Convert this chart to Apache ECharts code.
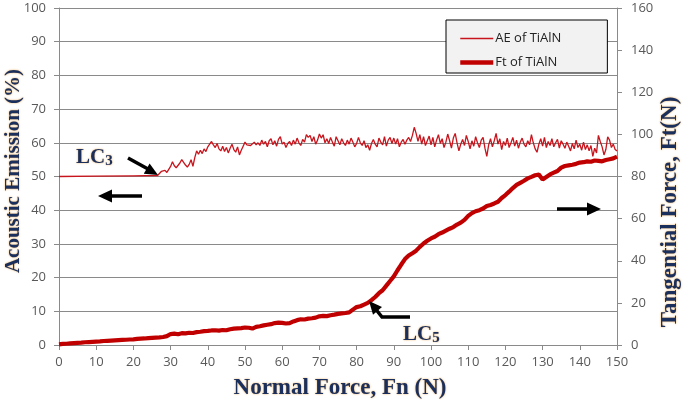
<!DOCTYPE html>
<html>
<head>
<meta charset="utf-8">
<script src="https://cdn.jsdelivr.net/npm/echarts@6/dist/echarts.min.js"></script>
<style>html,body{margin:0;padding:0;background:#fff}#c{width:685px;height:402px}</style>
</head>
<body>
<div id="c"></div>
<script>
// ---- Data ----
// Normal force axis ticks
const xTicks = [0,10,20,30,40,50,60,70,80,90,100,110,120,130,140,150];
// AE of TiAlN (%), left axis: flat lead-in, then dense readings every 0.5 N from 27 N
const aeLeadN = [0, 10, 20, 26.5];
const aeLead = [50.0, 50.1, 50.2, 50.3];
const aeDenseStartN = 27;
const aeDenseStepN = 0.5;
const aeDense = [
  50.3,51.5,51.0,51.8,51.2,51.4,53.0,54.4,53.2,52.6,52.9,54.0,55.0,54.2,53.4,52.8,53.6,55.0,53.0,55.6,
  57.6,56.6,57.8,56.8,58.2,57.4,58.8,59.6,60.4,59.4,58.6,59.8,58.2,57.6,59.0,57.4,58.6,57.0,58.4,59.6,
  58.0,57.2,58.8,56.4,57.8,59.0,60.2,59.4,59.8,59.2,59.6,60.2,59.4,60.0,59.2,60.8,59.6,60.4,58.8,60.6,
  61.2,59.4,60.6,59.0,61.0,61.8,59.6,60.2,58.6,59.8,60.4,59.2,60.8,59.6,61.4,60.0,59.2,61.0,60.2,62.4,
  61.6,62.2,60.4,61.8,59.6,60.8,62.6,61.4,62.4,60.0,61.2,59.8,61.6,60.2,59.0,61.8,60.6,59.4,61.2,60.0,
  59.2,60.8,59.6,61.4,60.2,58.8,59.8,61.6,60.0,59.2,60.6,58.6,59.4,57.8,59.8,61.0,59.6,58.8,61.4,60.2,
  59.4,61.8,59.0,60.8,61.6,59.8,61.4,59.6,61.2,58.8,60.2,61.0,59.6,60.8,61.6,60.4,62.2,64.6,62.8,60.4,
  62.4,59.6,61.8,59.2,60.6,62.0,59.4,61.6,58.8,60.8,62.4,59.8,61.2,58.6,60.2,62.6,60.6,58.4,61.4,62.8,
  60.0,57.6,59.6,61.0,59.2,62.2,60.4,58.2,60.6,59.0,61.8,60.0,58.6,60.8,61.6,58.4,56.0,59.4,61.2,58.8,
  60.6,62.8,59.6,61.2,58.0,60.4,59.2,61.4,58.6,60.0,61.6,59.0,60.8,58.4,60.2,61.4,59.6,58.8,60.6,59.4,
  62.4,60.0,58.2,57.2,59.6,61.2,59.0,61.6,58.6,60.4,59.2,61.2,58.8,60.0,61.0,58.4,60.6,59.6,58.4,60.2,
  59.0,57.6,59.8,58.2,60.8,58.6,59.6,57.8,60.2,58.0,59.4,57.6,59.2,56.0,58.4,57.0,62.2,60.4,58.8,56.4,
  58.0,61.8,60.8,58.6,59.6,58.0,57.6
];
// Ft of TiAlN (N), right axis, one reading per 1 N from 0 N
const ftStartN = 0;
const ftStepN = 1;
const ft = [
  0.3,0.5,0.6,0.8,0.9,1.0,1.1,1.3,1.4,1.5,
  1.6,1.7,1.9,2.0,2.1,2.2,2.3,2.4,2.5,2.6,
  2.7,2.9,3.0,3.1,3.3,3.4,3.5,3.6,3.8,4.2,
  5.2,5.4,5.1,5.6,5.5,5.8,5.7,6.1,6.3,6.6,
  6.7,6.9,7.0,6.8,7.1,7.0,7.5,7.8,7.9,8.0,
  8.3,8.2,7.8,8.6,8.9,9.3,9.6,9.9,10.4,10.6,
  10.5,10.2,10.4,11.2,11.8,12.2,12.1,12.5,12.7,13.0,
  13.6,13.8,13.7,14.1,14.4,14.8,15.0,15.2,15.5,16.8,
  18.0,18.4,19.2,20.0,21.3,22.8,24.6,26.0,28.2,30.4,
  32.6,35.5,38.2,40.8,42.5,43.6,44.8,46.6,48.2,49.5,
  50.6,51.4,52.6,53.4,54.3,55.2,56.0,57.2,58.1,59.4,
  61.3,62.6,63.5,64.0,64.8,66.0,66.5,67.2,68.0,69.8,
  71.2,72.8,74.5,76.0,77.0,78.0,79.1,79.8,80.6,80.9,
  78.6,79.8,81.0,81.8,82.6,84.2,85.0,85.3,85.6,86.0,
  86.6,86.8,87.2,87.0,87.6,87.4,87.2,87.8,88.2,88.6,
  89.4
];
const leftTicks = [0,10,20,30,40,50,60,70,80,90,100];
const rightTicks = [0,20,40,60,80,100,120,140,160];

// ---- Build series ----
const aeData = aeLeadN.map((n, i) => [n, aeLead[i]])
  .concat(aeDense.map((v, i) => [aeDenseStartN + i * aeDenseStepN, v]));
const ftData = ft.map((v, i) => [ftStartN + i * ftStepN, v]);

const titleColor = '#1b2f5c';
const glow = '#e8a64a';
const tickFont = 'Open Sans';
const gray = '#8a8a8a';
const serif = '"Liberation Serif", "DejaVu Serif", serif';

const chart = echarts.init(document.getElementById('c'), null, {renderer: 'canvas'});

function arrowHead(points) {
  return {type: 'polygon', shape: {points: points}, style: {fill: '#000'}, z: 100};
}
function shaft(points) {
  return {type: 'polyline', shape: {points: points}, style: {stroke: '#000', lineWidth: 3.5, fill: null}, z: 100};
}
function lcLabel(x, y, sub) {
  return {type: 'text', x: x, y: y, z: 50,
    style: {text: '{a|LC}{b|' + sub + '}', rich: {
      a: {font: 'bold 21px ' + serif, fill: titleColor, textShadowColor: glow, textShadowBlur: 2},
      b: {font: 'bold 15px ' + serif, fill: titleColor, padding: [8, 0, 0, 0], textShadowColor: glow, textShadowBlur: 2}
    }}};
}

chart.setOption({
  animation: false,
  backgroundColor: '#fff',
  grid: {left: 59, right: 68, top: 8, bottom: 57, containLabel: false},
  legend: {
    left: 446, top: 20,
    orient: 'vertical',
    backgroundColor: '#f2f2f2',
    borderColor: '#000', borderWidth: 1,
    padding: [12, 46, 4, 12],
    itemWidth: 33, itemHeight: 14, itemGap: 11,
    itemStyle: {opacity: 0},
    textStyle: {fontFamily: tickFont, fontSize: 13, color: '#222', padding: [0, 0, 0, -3]},
    data: [
      {name: 'AE of TiAlN', lineStyle: {width: 1.5}},
      {name: 'Ft of TiAlN', lineStyle: {width: 4.5}}
    ]
  },
  xAxis: {
    type: 'value', min: xTicks[0], max: xTicks[xTicks.length - 1], interval: 10,
    axisLine: {show: true, lineStyle: {color: gray, width: 1}},
    axisTick: {show: true, inside: false, length: 5, lineStyle: {color: gray}},
    axisLabel: {color: '#595959', fontFamily: tickFont, fontSize: 13, margin: 11},
    splitLine: {show: false}
  },
  yAxis: [
    {
      type: 'value', min: leftTicks[0], max: leftTicks[leftTicks.length - 1], interval: 10,
      axisLine: {show: true, lineStyle: {color: gray, width: 1}},
      axisTick: {show: true, inside: false, length: 5, lineStyle: {color: gray}},
      axisLabel: {color: '#595959', fontFamily: tickFont, fontSize: 13, margin: 13},
      splitLine: {show: true, lineStyle: {color: gray, width: 1}}
    },
    {
      type: 'value', position: 'right', min: rightTicks[0], max: rightTicks[rightTicks.length - 1], interval: 20,
      axisLine: {show: true, lineStyle: {color: gray, width: 1}},
      axisTick: {show: true, inside: false, length: 5, lineStyle: {color: gray}},
      axisLabel: {color: '#595959', fontFamily: tickFont, fontSize: 13, margin: 14},
      splitLine: {show: false}
    }
  ],
  series: [
    {
      name: 'AE of TiAlN', type: 'line', yAxisIndex: 0, data: aeData,
      showSymbol: false, symbol: 'none',
      lineStyle: {color: '#c8141c', width: 1.3},
      itemStyle: {color: '#c8141c'},
      z: 3
    },
    {
      name: 'Ft of TiAlN', type: 'line', yAxisIndex: 1, data: ftData,
      showSymbol: false, symbol: 'none',
      lineStyle: {color: '#c00000', width: 4.2},
      itemStyle: {color: '#c00000'},
      z: 4
    }
  ],
  graphic: [
    // axis titles
    {type: 'text', x: 340, y: 377,
     style: {text: 'Normal Force, Fn (N)', font: 'bold 23px ' + serif, fill: titleColor, align: 'center',
             verticalAlign: 'top', textShadowColor: glow, textShadowBlur: 2}, z: 50},
    {type: 'text', x: 3, y: 171, rotation: Math.PI / 2,
     style: {text: 'Acoustic Emission (%)', font: 'bold 21px ' + serif, fill: titleColor,
             align: 'center', verticalAlign: 'top', textShadowColor: glow, textShadowBlur: 2}, z: 50},
    {type: 'text', x: 659, y: 212, rotation: Math.PI / 2,
     style: {text: 'Tangential Force, Ft(N)', font: 'bold 23px ' + serif, fill: titleColor,
             align: 'center', verticalAlign: 'top', textShadowColor: glow, textShadowBlur: 2}, z: 50},
    // LC labels
    lcLabel(76, 146, '3'),
    lcLabel(403, 323, '5'),
    // arrows
    shaft([[128, 158], [148, 169]]),
    arrowHead([[158, 175], [143.8, 173.8], [149.6, 163.4]]),
    shaft([[108, 196], [142, 196]]),
    arrowHead([[98, 196], [112, 189.5], [112, 202.5]]),
    shaft([[557, 209], [590, 209]]),
    arrowHead([[601, 209], [587, 202.5], [587, 215.5]]),
    shaft([[410, 317], [382, 317], [376, 309.5]]),
    arrowHead([[369, 301], [382, 306.9], [373, 314.7]])
  ]
});
</script>
</body>
</html>
